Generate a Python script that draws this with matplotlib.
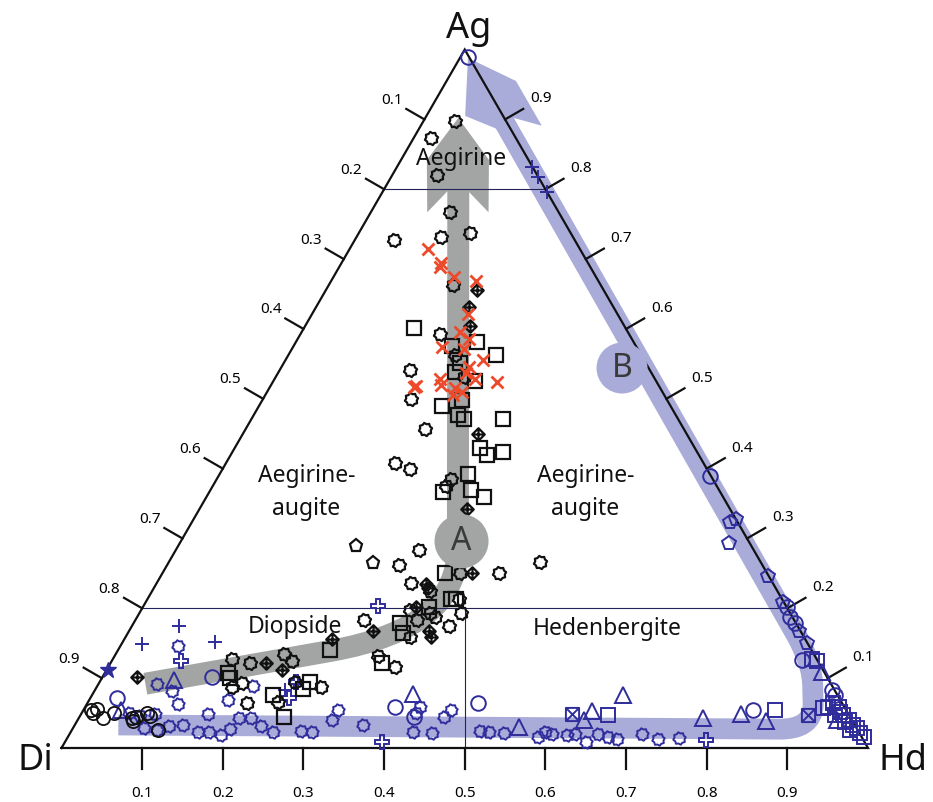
import numpy as np
import matplotlib.pyplot as plt
from matplotlib.path import Path
from matplotlib.patches import PathPatch, Polygon, Circle

plt.rcParams['font.family'] = ['Noto Sans', 'DejaVu Sans']


# Compositions: Hd and Ag fractions (Di = 1 - Hd - Ag)
black_cog_hd = [0.039, 0.021, 0.055, 0.098, 0.138, 0.105, 0.049, 0.154, 0.173, 0.207,
                0.162, 0.234, 0.183, 0.222, 0.210, 0.232, 0.290, 0.289, 0.301, 0.288,
                0.460, 0.369, 0.417, 0.315, 0.345, 0.386, 0.399, 0.333, 0.349, 0.370,
                0.284, 0.352, 0.394, 0.360, 0.327, 0.356, 0.173, 0.209, 0.224, 0.243,
                0.278, 0.236, 0.198, 0.148, 0.168, 0.177]
black_cog_ag = [0.898, 0.874, 0.821, 0.768, 0.737, 0.731, 0.727, 0.663, 0.593, 0.563,
                0.541, 0.531, 0.500, 0.457, 0.408, 0.399, 0.385, 0.375, 0.284, 0.262,
                0.266, 0.251, 0.250, 0.236, 0.225, 0.213, 0.193, 0.198, 0.183, 0.187,
                0.183, 0.159, 0.174, 0.193, 0.131, 0.116, 0.121, 0.134, 0.124, 0.094,
                0.087, 0.066, 0.065, 0.128, 0.087, 0.093]

black_pent_hd = [0.221, 0.254]
black_pent_ag = [0.289, 0.265]

black_sq_hd = [0.136, 0.225, 0.196, 0.257, 0.218, 0.219, 0.250, 0.227, 0.247, 0.253,
               0.264, 0.312, 0.304, 0.317, 0.335, 0.307, 0.290, 0.323, 0.344, 0.351,
               0.376, 0.355, 0.330, 0.341, 0.262, 0.336, 0.261, 0.257, 0.224, 0.253,
               0.152, 0.159, 0.383]
black_sq_ag = [0.601, 0.581, 0.576, 0.563, 0.551, 0.539, 0.526, 0.490, 0.498, 0.477,
               0.471, 0.471, 0.429, 0.420, 0.424, 0.393, 0.366, 0.369, 0.360, 0.250,
               0.213, 0.202, 0.179, 0.164, 0.141, 0.122, 0.095, 0.084, 0.076, 0.045,
               0.108, 0.100, 0.213]

black_dp_hd = [0.187, 0.190, 0.204, 0.292, 0.332, 0.384, 0.335, 0.340, 0.338, 0.303,
               0.372, 0.379, 0.257, 0.193, 0.217, 0.043]
black_dp_ag = [0.656, 0.631, 0.604, 0.449, 0.342, 0.251, 0.235, 0.229, 0.202, 0.167,
               0.167, 0.159, 0.156, 0.122, 0.112, 0.102]

black_circ_hd = [0.009, 0.014, 0.016, 0.030, 0.040, 0.066, 0.070, 0.070, 0.081, 0.087, 0.107]
black_circ_ag = [0.054, 0.050, 0.056, 0.043, 0.050, 0.043, 0.038, 0.044, 0.050, 0.046, 0.026]

red_x_hd = [0.098, 0.124, 0.125, 0.149, 0.179, 0.193, 0.196, 0.213, 0.185, 0.213, 0.245,
            0.232, 0.233, 0.249, 0.205, 0.210, 0.278, 0.178, 0.181, 0.230, 0.241, 0.233]
red_x_ag = [0.714, 0.694, 0.689, 0.675, 0.669, 0.621, 0.596, 0.585, 0.574, 0.571, 0.555,
            0.546, 0.537, 0.528, 0.529, 0.520, 0.524, 0.517, 0.518, 0.515, 0.510, 0.505]

blue_cog_hd = [0.059, 0.074, 0.092, 0.088, 0.105, 0.118, 0.134, 0.158, 0.158, 0.172,
               0.188, 0.195, 0.198, 0.213, 0.231, 0.251, 0.285, 0.299, 0.316, 0.315,
               0.357, 0.424, 0.449, 0.415, 0.414, 0.455, 0.452, 0.507, 0.519, 0.538,
               0.583, 0.588, 0.598, 0.617, 0.627, 0.646, 0.655, 0.670, 0.682, 0.710,
               0.733, 0.759, 0.073, 0.096, 0.113, 0.072, 0.193, 0.172]
blue_cog_ag = [0.050, 0.046, 0.049, 0.028, 0.026, 0.031, 0.033, 0.023, 0.048, 0.023,
               0.019, 0.027, 0.043, 0.043, 0.032, 0.023, 0.025, 0.023, 0.040, 0.055,
               0.033, 0.023, 0.022, 0.059, 0.050, 0.055, 0.045, 0.025, 0.023, 0.021,
               0.016, 0.023, 0.020, 0.019, 0.020, 0.009, 0.020, 0.016, 0.013, 0.020,
               0.013, 0.014, 0.092, 0.082, 0.063, 0.146, 0.089, 0.069]

blue_cross_hd = [0.291, 0.086, 0.247, 0.243, 0.394, 0.793]
blue_cross_ag = [0.203, 0.125, 0.071, 0.095, 0.008, 0.012]

blue_plus_hd = [0.058, 0.025, 0.114, 0.236, 0.167, 0.182, 0.204]
blue_plus_ag = [0.175, 0.149, 0.152, 0.083, 0.832, 0.818, 0.796]

blue_star_hd = [0.002]
blue_star_ag = [0.112]

blue_circ_hd = [0.009, 0.033, 0.136, 0.384, 0.414, 0.484, 0.831, 0.609, 0.798, 0.809,
                0.820, 0.855, 0.914, 0.921]
blue_circ_ag = [0.989, 0.071, 0.101, 0.059, 0.045, 0.065, 0.054, 0.389, 0.202, 0.188,
                0.179, 0.126, 0.083, 0.076]

blue_tri_hd = [0.091, 0.046, 0.397, 0.552, 0.631, 0.628, 0.658, 0.774, 0.818, 0.854, 0.888, 0.941]
blue_tri_ag = [0.097, 0.055, 0.077, 0.030, 0.053, 0.040, 0.076, 0.043, 0.049, 0.038, 0.109, 0.040]

blue_sq_hd = [0.654, 0.857, 0.916, 0.921, 0.866, 0.875, 0.925, 0.934, 0.939, 0.936,
              0.946, 0.956, 0.965, 0.972, 0.980, 0.987, 0.953, 0.965]
blue_sq_ag = [0.047, 0.055, 0.057, 0.059, 0.128, 0.124, 0.064, 0.059, 0.052, 0.047,
              0.047, 0.040, 0.033, 0.028, 0.021, 0.016, 0.037, 0.026]

blue_xsq_hd = [0.609, 0.902]
blue_xsq_ag = [0.049, 0.047]

blue_pent_hd = [0.667, 0.672, 0.681, 0.753, 0.790, 0.830, 0.849]
blue_pent_ag = [0.324, 0.328, 0.294, 0.246, 0.209, 0.168, 0.150]

ticks = [0.1, 0.2, 0.3, 0.4, 0.5, 0.6, 0.7, 0.8, 0.9]

# Trend arrows (Hd, Ag)
gray_trend = [(0.058, 0.092), (0.264, 0.139), (0.364, 0.162), (0.386, 0.212),
              (0.346, 0.291), (0.089, 0.806)]
gray_head = [(0.041, 0.902), (0.032, 0.842), (0.070, 0.767), (0.080, 0.797),
             (0.106, 0.797), (0.146, 0.767), (0.109, 0.842)]
blue_trend = [(0.054, 0.033), (0.877, 0.027), (0.902, 0.027), (0.913, 0.037),
              (0.901, 0.062), (0.890, 0.083), (0.876, 0.112), (0.854, 0.137),
              (0.832, 0.160), (0.096, 0.901)]
blue_head = [(0.010, 0.988), (0.086, 0.955), (0.150, 0.891), (0.110, 0.902),
             (0.095, 0.887), (0.048, 0.905)]


S3 = np.sqrt(3) / 2


def tern(hd, ag):
    hd = np.asarray(hd, dtype=float)
    ag = np.asarray(ag, dtype=float)
    return hd + ag / 2, ag * S3


BLUE = '#2f2c9c'
BLACK = '#111111'
RED = '#ec4a2a'
GRAY_BAND = '#a3a5a5'
BLUE_BAND = '#a9abd8'
NAVY = '#23235a'


# custom markers
ang = np.arange(16) * np.pi / 8 + np.pi / 16
rad = np.where(np.arange(16) % 2 == 0, 1.0, 0.8)
cog_v = np.column_stack([rad * np.cos(ang), rad * np.sin(ang)])
cog = Path(np.vstack([cog_v, cog_v[:1]]), closed=True)

M, L, C = Path.MOVETO, Path.LINETO, Path.CLOSEPOLY
diamond_plus = Path(
    [(0, 1), (1, 0), (0, -1), (-1, 0), (0, 1), (0, 1), (0, -1), (-1, 0), (1, 0)],
    [M, L, L, L, C, M, L, M, L])
crossed_square = Path(
    [(-1, -1), (1, -1), (1, 1), (-1, 1), (-1, -1), (-1, -1), (1, 1), (-1, 1), (1, -1)],
    [M, L, L, L, C, M, L, M, L])


fig = plt.figure(figsize=(9.33, 8.02), dpi=100)
ax = fig.add_axes([0, 0, 1, 1])
ax.set_xlim(-0.07626, 1.08060)
ax.set_ylim(-0.06696, 0.92746)
ax.axis('off')


# trend bands
def band(points, codes, color, lw):
    xs, ys = tern([p[0] for p in points], [p[1] for p in points])
    path = Path(np.column_stack([xs, ys]), codes)
    ax.add_patch(PathPatch(path, fill=False, edgecolor=color, lw=lw,
                           capstyle='butt', joinstyle='round', zorder=1))


band(gray_trend, [M, L, Path.CURVE4, Path.CURVE4, Path.CURVE4, L], GRAY_BAND, 15.8)
band(blue_trend, [M, L, Path.CURVE4, Path.CURVE4, Path.CURVE4, L,
                  Path.CURVE4, Path.CURVE4, Path.CURVE4, L], BLUE_BAND, 15.0)

for head, color in [(gray_head, GRAY_BAND), (blue_head, BLUE_BAND)]:
    hx, hy = tern([p[0] for p in head], [p[1] for p in head])
    ax.add_patch(Polygon(np.column_stack([hx, hy]), closed=True,
                         facecolor=color, edgecolor='none', zorder=1))


# triangle frame
fx, fy = tern([0, 1, 0, 0], [0, 0, 1, 0])
ax.plot(fx, fy, color=BLACK, lw=1.6, zorder=2, solid_joinstyle='miter')

# field boundaries
bx, by = tern([0, 0.8], [0.2, 0.2])
ax.plot(bx, by, color=NAVY, lw=0.8, zorder=2)
bx, by = tern([0, 0.2], [0.8, 0.8])
ax.plot(bx, by, color=NAVY, lw=0.8, zorder=2)
bx, by = tern([0.5, 0.4], [0, 0.2])
ax.plot(bx, by, color=NAVY, lw=0.8, zorder=2)

# ticks and tick labels
tick_len = 0.026
for v in ticks:
    lab = f'{v:.1f}'
    x0, y0 = tern(v, 0)
    ax.plot([x0, x0], [y0, y0 - tick_len], color=BLACK, lw=1.6, zorder=2)
    ax.text(x0, y0 - 0.0565, lab, ha='center', va='center', fontsize=11)

    x0, y0 = tern(0, 1 - v)
    ax.plot([x0, x0 - S3 * tick_len], [y0, y0 + 0.5 * tick_len], color=BLACK, lw=1.6, zorder=2)
    ax.text(x0 - S3 * 0.047, y0 + 0.5 * 0.047, lab, ha='center', va='center', fontsize=11)

    x0, y0 = tern(1 - v, v)
    ax.plot([x0, x0 + S3 * tick_len], [y0, y0 + 0.5 * tick_len], color=BLACK, lw=1.6, zorder=2)
    ax.text(x0 + S3 * 0.051, y0 + 0.5 * 0.051, lab, ha='center', va='center', fontsize=11)


# data points
def pts(hd, ag, **kw):
    x, y = tern(hd, ag)
    ax.plot(x, y, ls='none', zorder=4, **kw)


pts(blue_cog_hd, blue_cog_ag, marker=cog, ms=9, mfc='none', mec=BLUE, mew=1.4)
pts(blue_cross_hd, blue_cross_ag, marker='P', ms=10, mfc='none', mec=BLUE, mew=1.4)
pts(blue_plus_hd, blue_plus_ag, marker='+', ms=10, mec=BLUE, mew=1.4)
pts(blue_star_hd, blue_star_ag, marker='*', ms=12, mfc=BLUE, mec=BLUE)
pts(blue_circ_hd, blue_circ_ag, marker='o', ms=10.5, mfc='none', mec=BLUE, mew=1.4)
pts(blue_tri_hd, blue_tri_ag, marker='^', ms=11, mfc='none', mec=BLUE, mew=1.4)
pts(blue_sq_hd, blue_sq_ag, marker='s', ms=9.5, mfc='none', mec=BLUE, mew=1.4)
pts(blue_xsq_hd, blue_xsq_ag, marker=crossed_square, ms=9.5, mfc='none', mec=BLUE, mew=1.4)
pts(blue_pent_hd, blue_pent_ag, marker='p', ms=10, mfc='none', mec=BLUE, mew=1.4)

pts(black_cog_hd, black_cog_ag, marker=cog, ms=9.5, mfc='none', mec=BLACK, mew=1.6)
pts(black_pent_hd, black_pent_ag, marker='p', ms=9.5, mfc='none', mec=BLACK, mew=1.6)
pts(black_sq_hd, black_sq_ag, marker='s', ms=9.5, mfc='none', mec=BLACK, mew=1.6)
pts(black_dp_hd, black_dp_ag, marker=diamond_plus, ms=9, mfc='none', mec=BLACK, mew=1.6)
pts(black_circ_hd, black_circ_ag, marker='o', ms=9.5, mfc='none', mec=BLACK, mew=1.3)
pts(red_x_hd, red_x_ag, marker='x', ms=8, mec=RED, mew=2)


# trend labels A and B
for (hd, ag), r, lab, col in [((0.348, 0.296), 0.0335, 'A', GRAY_BAND),
                              ((0.423, 0.544), 0.0316, 'B', BLUE_BAND)]:
    cx, cy = tern(hd, ag)
    ax.add_patch(Circle((cx, cy), r, facecolor=col, edgecolor='none', zorder=5))
    ax.text(cx, cy, lab, ha='center', va='center', fontsize=23, color='#3a3a3a', zorder=6)


# field names
for lab, hd, ag in [('Aegirine', 0.078, 0.835),
                    ('Aegirine-', 0.113, 0.381), ('augite', 0.136, 0.334),
                    ('Aegirine-', 0.459, 0.381), ('augite', 0.482, 0.334),
                    ('Diopside', 0.207, 0.165), ('Hedenbergite', 0.596, 0.162)]:
    tx, ty = tern(hd, ag)
    ax.text(tx, ty, lab, ha='center', va='baseline', fontsize=16.5, color=BLACK, zorder=6)

# end-member names
for lab, hd, ag, off in [('Ag', 0, 1, (3.1, 8.3)),
                         ('Di', 0, 0, (-19, -15.8)),
                         ('Hd', 1, 0, (25.2, -15.8))]:
    ax.annotate(lab, xy=tern(hd, ag), xytext=off, textcoords='offset points',
                ha='center', va='baseline', fontsize=26, color=BLACK)

fig.savefig('out.png', dpi=100)
